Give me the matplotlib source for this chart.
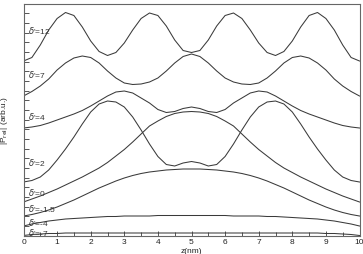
import numpy as np
import matplotlib
matplotlib.use("Agg")
import matplotlib.pyplot as plt
from matplotlib.ticker import MultipleLocator

plt.rcParams['font.family'] = ['Liberation Sans', 'DejaVu Sans']

# -------------------
# DATA (arb. units)
# -------------------

z = np.arange(0, 10.001, 0.25)

p_12 = [174.5, 178, 190.5, 205.5, 217, 223, 220, 208.5, 194.5, 184, 180,
        183, 192.5, 205.5, 217, 222.5, 220, 209.5, 195.5, 185, 183,
        185, 195.5, 209.5, 220, 222.5, 217, 205.5, 192.5, 183, 180,
        184, 194.5, 208.5, 220, 223, 217, 205.5, 190.5, 178, 174.5]
p_7 = [139.5, 144, 149.5, 156.5, 165.5, 172.5, 177.5, 179.5, 178, 172.5, 164.5,
       157.5, 152.5, 151, 151.5, 153.5, 157.5, 164.5, 172.5, 179, 181.5,
       179, 172.5, 164.5, 157.5, 153.5, 151.5, 151, 152.5, 157.5, 164.5,
       172.5, 178, 179.5, 177.5, 172.5, 165.5, 156.5, 149.5, 144, 139.5]
p_4 = [107.5, 108.5, 110, 112.5, 115.5, 118.5, 121.5, 125, 129.5, 134.5, 139.5,
       143.5, 144.5, 142.5, 137.5, 132.5, 126, 123, 124, 127, 128.5,
       127, 124, 123, 126, 132.5, 137.5, 142.5, 144.5, 143.5, 139.5,
       134.5, 129.5, 125, 121.5, 118.5, 115.5, 112.5, 110, 108.5, 107.5]
p_2 = [53.5, 55, 58.5, 65.5, 75.5, 86.5, 98.5, 111.5, 123.5, 131.5, 134.5,
       133.5, 128.5, 118.5, 105.5, 91.5, 79, 71, 69.5, 72.5, 74,
       72.5, 69.5, 71, 79, 91.5, 105.5, 118.5, 128.5, 133.5, 134.5,
       131.5, 123.5, 111.5, 98.5, 86.5, 75.5, 65.5, 58.5, 55, 53.5]
p_0 = [33.5, 36.5, 39.5, 43, 46.5, 50.5, 54.5, 58.5, 63, 67.5, 73,
       79.5, 86, 93.5, 101.5, 109.5, 114.5, 119, 122, 123.5, 124,
       123.5, 122, 119, 114.5, 109.5, 101.5, 93.5, 86, 79.5, 73,
       67.5, 63, 58.5, 54.5, 50.5, 46.5, 43, 39.5, 36.5, 33.5]
p_m15 = [19.5, 21, 23, 25.5, 28.5, 32, 35.5, 39.5, 43.5, 47.5, 51,
         54.5, 57.5, 60, 62, 63.5, 64.5, 65.5, 66, 66.5, 66.5,
         66.5, 66, 65.5, 64.5, 63.5, 62, 60, 57.5, 54.5, 51,
         47.5, 43.5, 39.5, 35.5, 32, 28.5, 25.5, 23, 21, 19.5]
p_m4 = [9.5, 11.5, 13, 14.5, 15.5, 16.5, 17, 17.5, 18, 18.5, 19,
        19, 19.5, 19.5, 19.5, 19.5, 20, 20, 20, 20, 20,
        20, 20, 20, 20, 19.5, 19.5, 19.5, 19.5, 19, 19,
        18.5, 18, 17.5, 17, 16.5, 15.5, 14.5, 13, 11.5, 9.5]
p_m7 = [0, 1, 1.5, 2, 2, 2.5, 2.5, 2.5, 2.5, 2.5, 2.5,
        2.5, 2.5, 2.5, 2.5, 2.5, 2.5, 2.5, 2.5, 2.5, 2.5,
        2.5, 2.5, 2.5, 2.5, 2.5, 2.5, 2.5, 2.5, 2.5, 2.5,
        2.5, 2.5, 2.5, 2.5, 2.5, 2, 2, 1.5, 1, 0]

curves = [p_12, p_7, p_4, p_2, p_0, p_m15, p_m4, p_m7]
labels = ["12", "7", "4", "2", "0", "-1.5", "-4", "-7"]
label_y = [206.5, 161.5, 119.5, 73.5, 43.5, 27.5, 13.5, 3.5]

# -------------------
# PLOT
# -------------------

fig = plt.figure(figsize=(3.63, 2.55), dpi=100)
ax = fig.add_axes([23.5 / 363, 18.5 / 255, 336 / 363, 232 / 255])

for p in curves:
    ax.plot(z, p, color="#3a3a3a", lw=0.75)

for lab, yl in zip(labels, label_y):
    ax.text(0.12, yl, r"$\delta$'=" + lab, fontsize=6, va="center",
            ha="left", color="#333333")

ax.set_xlim(0, 10)
ax.set_ylim(0, 232)
ax.xaxis.set_major_locator(MultipleLocator(1))
ax.xaxis.set_minor_locator(MultipleLocator(0.5))
ax.yaxis.set_major_locator(MultipleLocator(232 / 24))
ax.set_yticklabels([])
ax.tick_params(axis="both", which="both", direction="in", top=False,
               right=False, colors="#555555", width=0.7)
ax.tick_params(axis="x", which="major", length=3.5, labelsize=6,
               pad=2, labelcolor="#222222")
ax.tick_params(axis="x", which="minor", length=3)
ax.tick_params(axis="y", which="major", length=3.5)

for s in ax.spines.values():
    s.set_color("#666666")
    s.set_linewidth(0.8)

ax.set_xlabel("z(nm)", fontsize=6, color="#222222")
ax.xaxis.set_label_coords(0.5, -0.05)
ax.set_ylabel(r"|P$_{\rm rel}$| (arb.u.)", fontsize=6, color="#222222")
ax.yaxis.set_label_coords(-0.04, 0.5)

fig.savefig("out.png", dpi=100)
